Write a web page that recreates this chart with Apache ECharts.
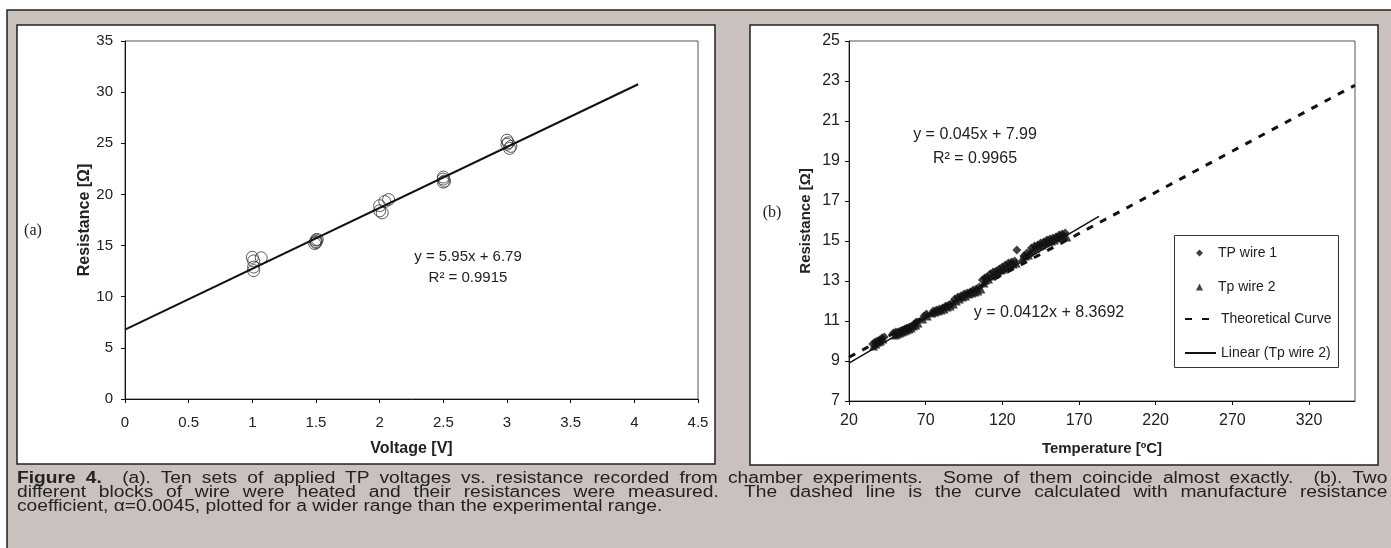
<!DOCTYPE html>
<html>
<head>
<meta charset="utf-8">
<script src="https://cdn.jsdelivr.net/npm/echarts@6/dist/echarts.min.js"></script>
<style>
  html, body { margin: 0; padding: 0; background: #fff; }
  #chart { position: absolute; left: 0; top: 0; width: 1391px; height: 548px; }
  #cap {
    position: absolute; left: 17px; top: 471px; width: 1142px;
    transform: scaleX(1.2); transform-origin: 0 0;
    font-family: "Liberation Sans", Arial, sans-serif; font-size: 16px; line-height: 14px; color: #222;
  }
  #cap .j { text-align: justify; text-align-last: justify; }
</style>
</head>
<body>
<div id="chart"></div>
<div id="cap">
  <div class="j"><b>Figure 4.</b>&nbsp; (a). Ten sets of applied TP voltages vs. resistance recorded from chamber experiments.&nbsp; Some of them coincide almost exactly.&nbsp; (b). Two</div>
  <div class="j">different blocks of wire were heated and their resistances were measured.&nbsp; The dashed line is the curve calculated with manufacture resistance</div>
  <div>coefficient, &alpha;=0.0045, plotted for a wider range than the experimental range.</div>
</div>
<script>
// (a) voltage vs resistance
const voltA = [1, 1.07, 1.01, 1.01, 1.01, 1.5, 1.5, 1.51, 1.49, 1.5, 2, 2.04, 2, 2.02, 2.07, 2.5, 2.5, 2.51, 2.5, 3, 3.01, 3.02, 3, 3.03]
const resA = [13.85, 13.8, 13.5, 12.9, 12.55, 15.55, 15.3, 15.6, 15.2, 15.4, 18.9, 19.3, 18.4, 18.2, 19.5, 21.7, 21.5, 21.3, 21.2, 25.3, 25.05, 24.5, 24.9, 24.7]
const fitA = [[0, 6.79], [4.03, 30.77]]

// (b) temperature vs resistance
const tempW1 = [35.5, 37, 38.5, 40, 41.5, 43, 49, 50.5, 52, 53.5, 55, 56.5, 58, 59.5, 61, 62.5, 64, 69, 70.5, 75, 77, 79, 81, 83, 85, 87, 89, 91, 93, 95, 97, 99, 101, 103, 105, 107, 108.5, 110, 112, 114, 116, 118, 120, 122, 124, 126, 128, 129.5, 134, 136, 139, 141, 143, 145, 147, 149, 151, 153, 155, 157, 159, 161]
const resW1 = [9.85, 9.95, 10.0, 10.05, 10.15, 10.2, 10.4, 10.45, 10.45, 10.5, 10.55, 10.6, 10.65, 10.7, 10.75, 10.85, 10.95, 11.25, 11.35, 11.5, 11.55, 11.6, 11.65, 11.75, 11.8, 11.9, 12.1, 12.2, 12.25, 12.35, 12.4, 12.45, 12.55, 12.6, 12.7, 13.05, 13.15, 13.2, 13.35, 13.45, 13.5, 13.6, 13.7, 13.8, 13.9, 13.95, 14.0, 14.55, 14.25, 14.4, 14.65, 14.75, 14.8, 14.9, 14.95, 15.05, 15.1, 15.15, 15.2, 15.3, 15.35, 15.4]
const tempW2 = [36, 37.5, 39, 40.5, 42, 50, 51.5, 53, 54.5, 56, 57.5, 59, 60.5, 62, 63.5, 65, 68, 71, 74, 76, 78, 80, 82, 84, 86, 88, 90, 92, 94, 96, 98, 100, 102, 104, 106, 108, 109, 111, 113, 115, 117, 119, 121, 123, 125, 127, 129, 133, 135, 137, 138, 140, 142, 144, 146, 148, 150, 152, 154, 156, 158, 160, 162]
const resW2 = [9.75, 9.85, 9.95, 10.0, 10.1, 10.3, 10.35, 10.4, 10.45, 10.5, 10.55, 10.6, 10.65, 10.75, 10.8, 10.9, 11.1, 11.25, 11.4, 11.45, 11.5, 11.55, 11.6, 11.7, 11.75, 11.85, 12.0, 12.1, 12.2, 12.25, 12.35, 12.4, 12.45, 12.5, 12.6, 12.9, 13.05, 13.1, 13.25, 13.35, 13.45, 13.55, 13.6, 13.7, 13.8, 13.85, 13.9, 14.15, 14.25, 14.3, 14.45, 14.55, 14.65, 14.75, 14.8, 14.9, 14.95, 15.0, 15.05, 15.15, 15.2, 15.25, 15.2]
const theoCurve = [[20, 9.19], [350, 22.79]]
const fitW2 = [[20, 8.89], [183, 16.23]]

const zip = (xs, ys) => xs.map((x, i) => [x, ys[i]])

const FONT = '"Liberation Sans", Arial, sans-serif'
const INK = '#222'
const GRAY = '#cac1be'

const chart = echarts.init(document.getElementById('chart'))

function axisBase(extra) {
  return Object.assign({
    type: 'value',
    splitLine: { show: false },
    axisLine: { show: true, onZero: false, lineStyle: { color: '#111', width: 1 } },
    axisTick: { show: true, length: 4, lineStyle: { color: '#111' } },
    nameLocation: 'middle'
  }, extra)
}

function txt(x, y, text, size, family) {
  return {
    type: 'text', x: x, y: y, z: 5,
    style: { text: text, font: size + 'px ' + (family || FONT), fill: INK, align: 'center', verticalAlign: 'middle' }
  }
}

// legend is split in two so the marker icons keep their shape; one box is drawn round both
const legendText = { fontFamily: FONT, fontSize: 14, color: INK }

chart.setOption({
  animation: false,
  backgroundColor: '#fff',
  grid: [
    { left: 125, top: 41, width: 573, height: 358, show: true, borderColor: '#555', borderWidth: 1, backgroundColor: 'transparent' },
    { left: 849, top: 41, width: 506, height: 360, show: true, borderColor: '#555', borderWidth: 1, backgroundColor: 'transparent' }
  ],
  xAxis: [
    axisBase({
      gridIndex: 0, min: 0, max: 4.5, interval: 0.5,
      name: 'Voltage [V]', nameGap: 42,
      nameTextStyle: { fontFamily: FONT, fontWeight: 'bold', fontSize: 16, color: INK },
      axisLabel: { fontFamily: FONT, fontSize: 15, color: INK, margin: 16 }
    }),
    axisBase({
      gridIndex: 1, min: 20, max: 350, interval: 50,
      name: 'Temperature [ºC]', nameGap: 40,
      nameTextStyle: { fontFamily: FONT, fontWeight: 'bold', fontSize: 15, color: INK },
      axisLabel: { fontFamily: FONT, fontSize: 16, color: INK, margin: 12, showMaxLabel: false }
    })
  ],
  yAxis: [
    axisBase({
      gridIndex: 0, min: 0, max: 35, interval: 5,
      name: 'Resistance [Ω]', nameGap: 28,
      nameTextStyle: { fontFamily: FONT, fontWeight: 'bold', fontSize: 16, color: INK },
      axisLabel: { fontFamily: FONT, fontSize: 15, color: INK, margin: 12 }
    }),
    axisBase({
      gridIndex: 1, min: 7, max: 25, interval: 2,
      name: 'Resistance [Ω]', nameGap: 36,
      nameTextStyle: { fontFamily: FONT, fontWeight: 'bold', fontSize: 15, color: INK },
      axisLabel: { fontFamily: FONT, fontSize: 16, color: INK, margin: 9 }
    })
  ],
  legend: [
    {
      orient: 'vertical', left: 1196, top: 246,
      padding: 0, itemGap: 20, itemWidth: 7, itemHeight: 7,
      selectedMode: false,
      textStyle: Object.assign({ padding: [0, 0, 0, 10] }, legendText),
      data: ['TP wire 1', 'Tp wire 2']
    },
    {
      orient: 'vertical', left: 1184, top: 312,
      padding: 0, itemGap: 20, itemWidth: 31, itemHeight: 7,
      selectedMode: false,
      itemStyle: { opacity: 0 },
      textStyle: legendText,
      data: [
        { name: 'Theoretical Curve', lineStyle: { type: [7, 10] } },
        'Linear (Tp wire 2)'
      ]
    }
  ],
  series: [
    {
      type: 'scatter', xAxisIndex: 0, yAxisIndex: 0,
      symbol: 'circle', symbolSize: 12,
      itemStyle: { color: 'rgba(0,0,0,0)', borderColor: '#333', borderWidth: 1 },
      data: zip(voltA, resA)
    },
    {
      type: 'line', xAxisIndex: 0, yAxisIndex: 0, symbol: 'none',
      lineStyle: { color: '#111', width: 2 },
      data: fitA
    },
    {
      name: 'Theoretical Curve', type: 'line', xAxisIndex: 1, yAxisIndex: 1, symbol: 'none',
      itemStyle: { color: '#111' },
      lineStyle: { color: '#111', width: 3, type: [7, 8] },
      data: theoCurve
    },
    {
      name: 'Linear (Tp wire 2)', type: 'line', xAxisIndex: 1, yAxisIndex: 1, symbol: 'none',
      itemStyle: { color: '#111' },
      lineStyle: { color: '#111', width: 1.5 },
      data: fitW2
    },
    {
      name: 'TP wire 1', type: 'scatter', xAxisIndex: 1, yAxisIndex: 1,
      symbol: 'diamond', symbolSize: 9,
      itemStyle: { color: '#111' },
      data: zip(tempW1, resW1)
    },
    {
      name: 'Tp wire 2', type: 'scatter', xAxisIndex: 1, yAxisIndex: 1,
      symbol: 'triangle', symbolSize: 9,
      itemStyle: { color: '#111' },
      data: zip(tempW2, resW2)
    }
  ],
  graphic: {
    elements: [
      // gray figure frame and the two white panels
      { type: 'rect', z: -10, shape: { x: 7, y: 10, width: 1400, height: 560 }, style: { fill: GRAY, stroke: '#222', lineWidth: 1.5 } },
      { type: 'rect', z: -9, shape: { x: 17, y: 25, width: 698, height: 439 }, style: { fill: '#fff', stroke: '#222', lineWidth: 1.5 } },
      { type: 'rect', z: -9, shape: { x: 750, y: 25, width: 628, height: 440 }, style: { fill: '#fff', stroke: '#222', lineWidth: 1.5 } },
      // legend box
      { type: 'rect', z: 1, shape: { x: 1174.5, y: 235.5, width: 164, height: 132 }, style: { fill: '#fff', stroke: '#333', lineWidth: 1 } },
      txt(33, 231, '(a)', 16, '"Liberation Serif", "Times New Roman", serif'),
      txt(772, 213, '(b)', 16, '"Liberation Serif", "Times New Roman", serif'),
      txt(468, 257, 'y = 5.95x + 6.79', 15),
      txt(468, 278, 'R² = 0.9915', 15),
      txt(975, 135, 'y = 0.045x + 7.99', 16),
      txt(975, 159, 'R² = 0.9965', 16),
      txt(1049, 313, 'y = 0.0412x + 8.3692', 16)
    ]
  }
})
</script>
</body>
</html>
